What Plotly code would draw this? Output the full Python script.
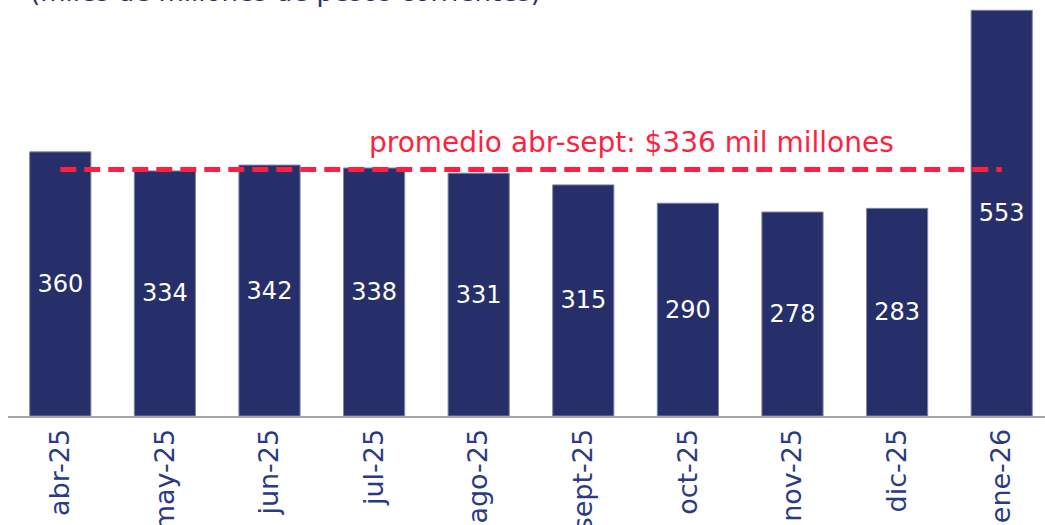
import plotly.graph_objects as go

categories = ["abr-25", "may-25", "jun-25", "jul-25", "ago-25", "sept-25", "oct-25", "nov-25", "dic-25", "ene-26"]
values = [360, 334, 342, 338, 331, 315, 290, 278, 283, 553]
average = 336
avg_label = "promedio abr-sept: $336 mil millones"
subtitle = "(miles de millones de pesos corrientes)"

navy = "#262F69"
red = "#FF1F40"
font_family = "DejaVu Sans, Verdana, sans-serif"

fig = go.Figure()
fig.add_trace(go.Bar(
    x=categories, y=values,
    marker=dict(color=navy, line=dict(color="#7F86A8", width=1)),
    text=[str(v) for v in values],
    textposition="inside", insidetextanchor="middle",
    textfont=dict(color="white", size=24, family=font_family),
    textangle=0,
    hoverinfo="skip",
))
fig.add_trace(go.Scatter(
    x=[categories[0], categories[-1]], y=[average, average],
    mode="lines",
    line=dict(color=red, width=5, dash="16px,8px"),
    hoverinfo="skip",
))
fig.add_annotation(
    x=categories[5], y=average, xref="x", yref="y",
    text=avg_label, showarrow=False,
    xanchor="center", yanchor="middle", xshift=48, yshift=27,
    font=dict(color=red, size=28, family=font_family),
)
fig.add_annotation(
    x=0, y=1, xref="paper", yref="paper",
    text=subtitle, showarrow=False,
    xanchor="left", yanchor="middle", xshift=20, yshift=8,
    font=dict(color=navy, size=26, family=font_family),
)

fig.update_layout(
    width=1045, height=525,
    margin=dict(l=8, r=0, t=0, b=109),
    paper_bgcolor="white", plot_bgcolor="white",
    showlegend=False,
    bargap=0.415,
    xaxis=dict(
        type="category", range=[-0.5, 9.414],
        tickangle=-90, showgrid=False, automargin=False,
        showline=True, linecolor="#A6A6A6", linewidth=2,
        ticks="", ticklen=0,
        tickfont=dict(color="#2B3A85", size=27, family=font_family),
    ),
    yaxis=dict(range=[0, 567], visible=False, showgrid=False, zeroline=False),
)

fig.write_html("out.html")
